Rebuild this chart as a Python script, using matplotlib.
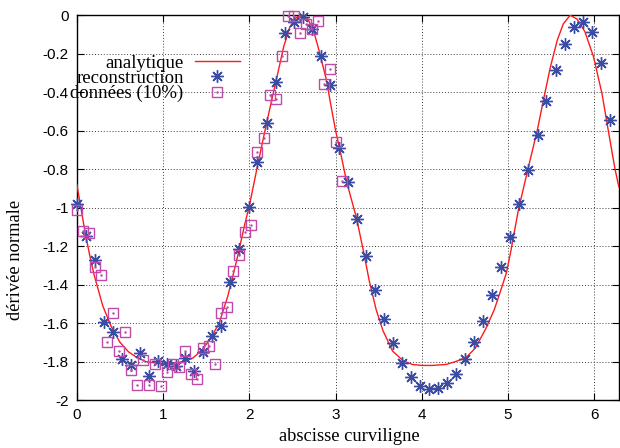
import matplotlib
matplotlib.use("Agg")
import matplotlib.pyplot as plt
from matplotlib.ticker import FormatStrFormatter

plt.rcParams['axes.unicode_minus'] = False

# analytic curve
x_analytique = [0.00, 0.05, 0.10, 0.15, 0.20, 0.30, 0.40, 0.50, 0.60, 0.70,
                0.80, 0.95, 1.10, 1.25, 1.35, 1.45, 1.55, 1.65, 1.75, 1.85,
                1.95, 2.00, 2.10, 2.20, 2.30, 2.40, 2.47, 2.55, 2.61, 2.68,
                2.75, 2.80, 2.89, 2.95, 3.00, 3.06, 3.13, 3.24, 3.32, 3.39,
                3.47, 3.55, 3.66, 3.78, 3.89, 4.00, 4.12, 4.28, 4.39, 4.51,
                4.62, 4.74, 4.84, 4.90, 4.98, 5.03, 5.12, 5.23, 5.34, 5.41,
                5.49, 5.57, 5.64, 5.72, 5.80, 5.89, 5.99, 6.09, 6.16, 6.24,
                6.2832]
y_analytique = [-0.88, -1.01, -1.14, -1.25, -1.35, -1.51, -1.62, -1.70, -1.75, -1.78,
                -1.80, -1.81, -1.81, -1.80, -1.78, -1.74, -1.68, -1.60, -1.46, -1.28,
                -1.08, -0.99, -0.77, -0.56, -0.36, -0.16, -0.06, -0.01, 0.00, -0.02,
                -0.09, -0.17, -0.33, -0.48, -0.60, -0.72, -0.87, -1.05, -1.22, -1.38,
                -1.53, -1.64, -1.745, -1.795, -1.815, -1.82, -1.82, -1.815, -1.80, -1.78,
                -1.73, -1.63, -1.53, -1.45, -1.34, -1.23, -1.01, -0.80, -0.595, -0.44,
                -0.27, -0.13, -0.045, 0.00, -0.02, -0.085, -0.215, -0.41, -0.595, -0.80,
                -0.89]

# reconstruction (60 points)
x_recon = [0.000, 0.105, 0.209, 0.314, 0.419, 0.524, 0.628, 0.733, 0.838, 0.942,
           1.047, 1.152, 1.257, 1.361, 1.466, 1.571, 1.676, 1.780, 1.885, 1.990,
           2.094, 2.199, 2.304, 2.409, 2.513, 2.618, 2.723, 2.827, 2.932, 3.037,
           3.142, 3.246, 3.351, 3.456, 3.560, 3.665, 3.770, 3.875, 3.979, 4.084,
           4.189, 4.294, 4.398, 4.503, 4.608, 4.712, 4.817, 4.922, 5.027, 5.131,
           5.236, 5.341, 5.445, 5.550, 5.655, 5.760, 5.864, 5.969, 6.074, 6.178]
y_recon = [-0.98, -1.147, -1.273, -1.593, -1.645, -1.787, -1.818, -1.756, -1.874, -1.796,
           -1.81, -1.825, -1.782, -1.851, -1.749, -1.666, -1.614, -1.389, -1.216, -0.997,
           -0.765, -0.562, -0.346, -0.092, -0.035, -0.009, -0.074, -0.211, -0.363, -0.689,
           -0.866, -1.06, -1.251, -1.427, -1.58, -1.706, -1.805, -1.88, -1.927, -1.944,
           -1.939, -1.909, -1.862, -1.788, -1.696, -1.589, -1.455, -1.31, -1.15, -0.983,
           -0.802, -0.621, -0.448, -0.284, -0.15, -0.06, -0.034, -0.086, -0.25, -0.543]

# noisy data
x_donnees = [0.000, 0.070, 0.140, 0.209, 0.279, 0.349, 0.419, 0.489, 0.559, 0.628,
             0.698, 0.768, 0.838, 0.908, 0.977, 1.047, 1.117, 1.187, 1.257, 1.326,
             1.396, 1.466, 1.536, 1.606, 1.676, 1.745, 1.815, 1.885, 1.955, 2.024,
             2.094, 2.164, 2.234, 2.304, 2.374, 2.443, 2.513, 2.583, 2.653, 2.723,
             2.793, 2.862, 2.932, 3.002, 3.072]
y_donnees = [-1.012, -1.121, -1.13, -1.308, -1.351, -1.70, -1.545, -1.744, -1.645, -1.844,
             -1.922, -1.792, -1.922, -1.81, -1.926, -1.853, -1.813, -1.827, -1.747, -1.865,
             -1.891, -1.73, -1.718, -1.81, -1.548, -1.516, -1.329, -1.247, -1.125, -1.09,
             -0.709, -0.64, -0.412, -0.433, -0.213, -0.005, -0.005, -0.092, -0.047, -0.074,
             -0.031, -0.355, -0.277, -0.661, -0.862]

x_ticks = [0, 1, 2, 3, 4, 5, 6]
y_ticks = [0, -0.2, -0.4, -0.6, -0.8, -1, -1.2, -1.4, -1.6, -1.8, -2]

rouge = '#ff1a1a'
bleu = '#3a4ca4'
violet = '#c04aa8'

fig = plt.figure(figsize=(6.2, 4.48), dpi=100)
ax = fig.add_axes([0.124, 0.107, 0.874, 0.859])

ligne, = ax.plot(x_analytique, y_analytique, color=rouge, lw=1.0, zorder=3)
recon, = ax.plot(x_recon, y_recon, ls='none', marker=(8, 2, 0), ms=9, mew=1.0,
                 color=bleu, clip_on=False, zorder=4)
carres, = ax.plot(x_donnees, y_donnees, ls='none', marker='s', ms=7, mfc='none',
                  mew=1.0, color=violet, clip_on=False, zorder=5)
points, = ax.plot(x_donnees, y_donnees, ls='none', marker='.', ms=1.5,
                  color=violet, clip_on=False, zorder=5)

ax.set_xlim(0, 6.2832)
ax.set_ylim(-2, 0)
ax.set_xticks(x_ticks)
ax.set_yticks(y_ticks)
ax.yaxis.set_major_formatter(FormatStrFormatter('%g'))
ax.tick_params(direction='in', top=True, right=True, length=5, width=0.8,
               labelsize=11, pad=6)
for lab in ax.get_xticklabels() + ax.get_yticklabels():
    lab.set_family('Liberation Sans')
ax.grid(True, color='0.25', lw=0.7, ls=(0, (1, 2)))
for s in ax.spines.values():
    s.set_linewidth(1.0)

ax.set_xlabel('abscisse curviligne', family='Liberation Serif', fontsize=13.3)
ax.set_ylabel('dérivée normale', family='Liberation Serif', fontsize=13.3)
ax.xaxis.set_label_coords(0.503, -0.072)
ax.yaxis.set_label_coords(-0.098, 0.364)

ax.legend([ligne, recon, (carres, points)],
          ['analytique', 'reconstruction', 'données (10%)'],
          loc='upper right', bbox_to_anchor=(0.301, 0.898), markerfirst=False,
          frameon=False, prop={'family': 'Liberation Serif', 'size': 13.5},
          handlelength=2.4, handletextpad=0.6, labelspacing=-0.1,
          borderpad=0, borderaxespad=0)

fig.savefig('out.png', dpi=100)
